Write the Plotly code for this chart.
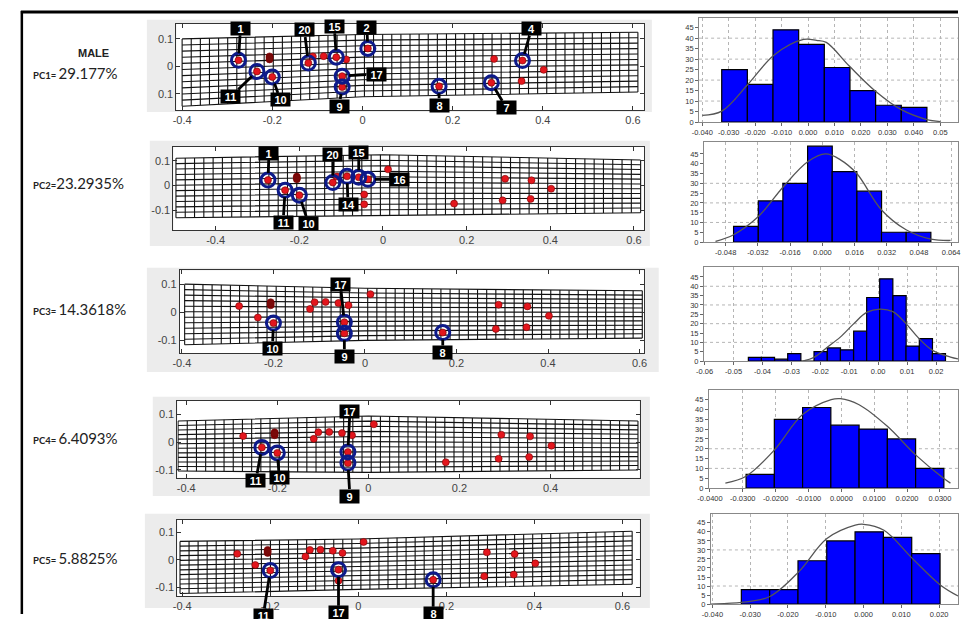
import numpy as np
import plotly.graph_objects as go

W, H = 961, 619

# ------------------------------------------------------------------ text
title_text = "MALE"
pc_names = ["PC1= ", "PC2=", "PC3= ", "PC4= ", "PC5= "]
pc_percent = ["29.177%", "23.2935%", "14.3618%", "6.4093%", "5.8825%"]

# ------------------------------------------------------------------ landmarks (consensus shape)
landmark_id = list(range(1, 21))
landmark_x = [-0.275, 0.012, 0.292, 0.355, 0.402, 0.353, 0.286, 0.170, -0.045, -0.200,
              -0.234, -0.206, -0.206, -0.086, -0.058, -0.036, -0.045, -0.110, -0.206, -0.120]
landmark_y = [0.022, 0.065, 0.027, 0.021, -0.013, -0.054, -0.060, -0.073, -0.076, -0.039,
              -0.019, 0.036, 0.025, 0.037, 0.033, 0.025, -0.036, 0.036, 0.031, 0.012]

# circled landmarks for each PC and the number written in its call-out box
pc1_circled = [1, 11, 10, 20, 15, 2, 17, 9, 8, 7, 4]
pc1_callout = ["1", "11", "10", "20", "15", "2", "17", "9", "8", "7", "4"]
pc2_circled = [1, 11, 10, 20, 14, 15, 16]
pc2_callout = ["1", "11", "10", "20", "14", "15", "16"]
pc3_circled = [10, 17, 9, 8]
pc3_callout = ["10", "17", "9", "8"]
pc4_circled = [11, 10, 17, 9]
pc4_callout = ["11", "10", "17", "9"]
pc5_circled = [10, 17, 8]
pc5_callout = ["11", "17", "8"]

# deformation-grid outline per PC: x extent, top edge and bottom edge (left, centre, right)
grid_x_extent = [(-0.400, 0.611), (-0.495, 0.616), (-0.394, 0.606), (-0.418, 0.592), (-0.405, 0.622)]
grid_top = [(0.100, 0.116, 0.124), (0.110, 0.124, 0.103), (0.101, 0.086, 0.077),
            (0.077, 0.095, 0.077), (0.067, 0.076, 0.104)]
grid_bottom = [(-0.146, -0.111, -0.094), (-0.130, -0.120, -0.110), (-0.117, -0.101, -0.093),
               (-0.105, -0.110, -0.101), (-0.123, -0.108, -0.089)]

grid_xtickvals = [-0.4, -0.2, 0, 0.2, 0.4, 0.6]
grid_xticktext = ["-0.4", "-0.2", "0", "0.2", "0.4", "0.6"]
grid_ytickvals = [-0.1, 0, 0.1]
pc1_yticktext = ["0.1", "0", "0.1"]
other_yticktext = ["-0.1", "0", "0.1"]

# ------------------------------------------------------------------ histograms of PC scores
hist1_centers = [-0.0278, -0.0181, -0.0084, 0.0013, 0.0110, 0.0207, 0.0304, 0.0401]
hist1_width = 0.0097
hist1_counts = [25, 18, 44, 37, 26, 15, 8, 7]
hist1_curve_x = [-0.0400, -0.0326, -0.0227, -0.0128, -0.0017, 0.0032, 0.0069, 0.0156, 0.0254, 0.0351, 0.0446, 0.0501]
hist1_curve_y = [3.2, 5.2, 18, 32, 39.4, 39, 38, 26.7, 14.8, 6, 1.3, 0.2]
hist1_tickvals = [-0.04, -0.03, -0.02, -0.01, 0.0, 0.01, 0.02, 0.03, 0.04, 0.05]
hist1_ticktext = ["-0.040", "-0.030", "-0.020", "-0.010", "0.000", "0.010", "0.020", "0.030", "0.040", "0.05"]

hist2_centers = [-0.0380, -0.0257, -0.0135, -0.0012, 0.0110, 0.0233, 0.0355, 0.0478]
hist2_width = 0.01224
hist2_counts = [8, 21, 30, 49, 36, 26, 5, 5]
hist2_curve_x = [-0.0531, -0.0441, -0.0318, -0.0196, -0.0073, 0.0016, 0.0090, 0.0171, 0.0294, 0.0416, 0.0539, 0.0637]
hist2_curve_y = [0.3, 3.7, 13, 28, 41, 45, 42, 35, 16.4, 6.3, 1.5, 0.8]
hist2_tickvals = [-0.048, -0.032, -0.016, 0.0, 0.016, 0.032, 0.048, 0.064]
hist2_ticktext = ["-0.048", "-0.032", "-0.016", "0.000", "0.016", "0.032", "0.048", "0.064"]

hist3_centers = [-0.0426, -0.0381, -0.0335, -0.0290, -0.0244, -0.0199, -0.0153, -0.0108,
                 -0.0062, -0.0017, 0.0028, 0.0074, 0.0119, 0.0165, 0.0210]
hist3_width = 0.00455
hist3_counts = [2, 2, 1, 4, 0, 5, 7, 6, 16, 34, 44, 35, 8, 12, 4]
hist3_curve_x = [-0.0261, -0.0222, -0.0176, -0.0131, -0.0085, -0.0040, 0.0006, 0.0051, 0.0097, 0.0142, 0.0188, 0.0250, 0.0276]
hist3_curve_y = [0, 2, 7.4, 12.8, 19.9, 26, 27.8, 26.4, 19.9, 11.9, 5.7, 2.1, 1.2]
hist3_tickvals = [-0.06, -0.05, -0.04, -0.03, -0.02, -0.01, 0.0, 0.01, 0.02]
hist3_ticktext = ["-0.06", "-0.05", "-0.04", "-0.03", "-0.02", "-0.01", "0.00", "0.01", "0.02"]

hist4_centers = [-0.0247, -0.0161, -0.0075, 0.0011, 0.0097, 0.0183, 0.0269]
hist4_width = 0.0086
hist4_counts = [7, 35, 41, 32, 30, 25, 10]
hist4_curve_x = [-0.0353, -0.0290, -0.0203, -0.0118, -0.0031, -0.0003, 0.0054, 0.0140, 0.0225, 0.0310, 0.0332]
hist4_curve_y = [2.5, 6, 19.5, 37.4, 45, 45.5, 42.4, 31.4, 17, 5.1, 2.5]
hist4_tickvals = [-0.04, -0.03, -0.02, -0.01, 0.0, 0.01, 0.02, 0.03]
hist4_ticktext = ["-0.0400", "-0.0300", "-0.0200", "-0.0100", "0.0000", "0.0100", "0.0200", "0.0300"]

hist5_centers = [-0.0286, -0.0211, -0.0136, -0.0060, 0.0015, 0.0090, 0.0165]
hist5_width = 0.0075
hist5_counts = [8, 8, 24, 35, 40, 37, 28]
hist5_curve_x = [-0.0404, -0.0361, -0.0323, -0.0248, -0.0171, -0.0097, -0.0022, 0.0000, 0.0054, 0.0129, 0.0203, 0.0250]
hist5_curve_y = [0, 0.4, 0.9, 4.2, 18, 36.3, 43.7, 44.2, 40.9, 25.3, 10.6, 4.5]
hist5_tickvals = [-0.04, -0.03, -0.02, -0.01, 0.0, 0.01, 0.02]
hist5_ticktext = ["-0.040", "-0.030", "-0.020", "-0.010", "0.000", "0.010", "0.020"]

hist_ytickvals = [0, 5, 10, 15, 20, 25, 30, 35, 40, 45]

# ------------------------------------------------------------------ layout (pixels)
grid_dom = [(167, 642, 24, 111), (164, 642, 148, 232), (170.5, 642, 272.7, 356),
            (168, 637.6, 404, 481.7), (168, 637.6, 524, 601)]
grid_xrange = [(-0.4127, 0.6245), (-0.501, 0.624), (-0.4045, 0.6097), (-0.4195, 0.5957), (-0.411, 0.639)]
grid_yrange = [(-0.160, 0.155), (-0.180, 0.156), (-0.147, 0.150), (-0.1296, 0.1505), (-0.1325, 0.1458)]
grey_boxes = [(137, 650, 20, 113), (140, 648, 142, 248), (137, 657, 270, 375),
              (143, 648, 400, 500), (135, 648, 518, 613)]
hist_dom = [(698, 961, 18, 123), (703, 961, 143, 244), (703, 961, 269, 364),
            (708, 961, 393, 492), (710, 961, 518, 609)]
hist_xrange = [(-0.0412, 0.0567), (-0.0588, 0.0674), (-0.0602, 0.0276), (-0.0403, 0.0355), (-0.0404, 0.025)]
hist_yrange = [(0, 49.7), (0, 51.2), (0, 50.4), (0, 50), (0, 50)]
hist_hgrid = [[10, 20, 30, 40], [10, 20, 30], [10, 20, 30, 40], [10, 20], [10, 30]]
callout_offsets = [
    [(2, -32), (-26, 25), (8, 23), (-4, -33), (-2, -31), (-1, -21), (34, -2), (-3, 19), (0, 19), (15, 25), (9, -32)],
    [(1, -27), (-2, 32), (9, 28), (0, -28), (1, 28), (0, -25), (32, 0)],
    [(-1, 25), (-4, -38), (0, 23), (0, 20)],
    [(-6, 33), (2, 25), (2, -41), (2, 33)],
    [(-7, 45), (0, 43), (0, 34)],
]
dark_landmarks = [12, 13, 19]
pc_label_y = [74, 184, 312, 442, 563]
N_COLS, N_ROWS = 51, 12

circled = [pc1_circled, pc2_circled, pc3_circled, pc4_circled, pc5_circled]
callouts = [pc1_callout, pc2_callout, pc3_callout, pc4_callout, pc5_callout]
hists = [
    (hist1_centers, hist1_width, hist1_counts, hist1_curve_x, hist1_curve_y, hist1_tickvals, hist1_ticktext),
    (hist2_centers, hist2_width, hist2_counts, hist2_curve_x, hist2_curve_y, hist2_tickvals, hist2_ticktext),
    (hist3_centers, hist3_width, hist3_counts, hist3_curve_x, hist3_curve_y, hist3_tickvals, hist3_ticktext),
    (hist4_centers, hist4_width, hist4_counts, hist4_curve_x, hist4_curve_y, hist4_tickvals, hist4_ticktext),
    (hist5_centers, hist5_width, hist5_counts, hist5_curve_x, hist5_curve_y, hist5_tickvals, hist5_ticktext),
]


def xa(i):
    return "x" if i == 1 else f"x{i}"


def ya(i):
    return "y" if i == 1 else f"y{i}"


def axkey(letter, i):
    return f"{letter}axis" if i == 1 else f"{letter}axis{i}"


def dx(l, r):
    return [l / W, min(r / W, 1.0)]


def dy(t, b):
    return [1 - b / H, 1 - t / H]


lm = {k: (x, y) for k, x, y in zip(landmark_id, landmark_x, landmark_y)}
dot_colors = ["#7a0a0a" if k in dark_landmarks else "#e3161d" for k in landmark_id]

fig = go.Figure()
layout = dict(width=W, height=H, margin=dict(l=0, r=0, t=0, b=0),
              paper_bgcolor="white", plot_bgcolor="white", showlegend=False,
              font=dict(family="Liberation Sans, Arial, sans-serif"),
              shapes=[], annotations=[])

# grey panels behind deformation grids, with white plot areas on top
for (l, r, t, b) in grey_boxes:
    layout["shapes"].append(dict(type="rect", xref="paper", yref="paper", x0=l / W, x1=r / W,
                                 y0=1 - b / H, y1=1 - t / H, fillcolor="#ececec",
                                 line=dict(width=0), layer="below"))
for (l, r, t, b) in grid_dom:
    layout["shapes"].append(dict(type="rect", xref="paper", yref="paper", x0=l / W, x1=r / W,
                                 y0=1 - b / H, y1=1 - t / H, fillcolor="white",
                                 line=dict(width=0), layer="below"))

for p in range(5):
    i = p + 1
    xl, xr = grid_x_extent[p]
    ctrl = [xl, 0.0, xr]
    topv, botv = grid_top[p], grid_bottom[p]
    gx, gy = [], []
    for x in np.linspace(xl, xr, N_COLS):
        gx += [float(x), float(x), None]
        gy += [float(np.interp(x, ctrl, botv)), float(np.interp(x, ctrl, topv)), None]
    for t in np.linspace(0, 1, N_ROWS):
        for k in range(3):
            gx.append(ctrl[k])
            gy.append(botv[k] + t * (topv[k] - botv[k]))
        gx.append(None)
        gy.append(None)
    fig.add_trace(go.Scatter(x=gx, y=gy, mode="lines", line=dict(color="#111111", width=1.1),
                             xaxis=xa(i), yaxis=ya(i), hoverinfo="skip"))
    fig.add_trace(go.Scatter(x=landmark_x, y=landmark_y, mode="markers",
                             marker=dict(size=7, color=dot_colors, line=dict(color="#7a0000", width=0.6)),
                             xaxis=xa(i), yaxis=ya(i), hoverinfo="skip"))
    ids = circled[p]
    fig.add_trace(go.Scatter(x=[lm[k][0] for k in ids], y=[lm[k][1] for k in ids], mode="markers",
                             marker=dict(symbol="circle-open", size=14, color="#0d1a8a", line=dict(width=3)),
                             xaxis=xa(i), yaxis=ya(i), hoverinfo="skip"))
    for k, txt, (ox, oy) in zip(ids, callouts[p], callout_offsets[p]):
        layout["annotations"].append(dict(
            x=lm[k][0], y=lm[k][1], xref=xa(i), yref=ya(i), text=f"<b>{txt}</b>",
            showarrow=True, ax=ox, ay=oy, arrowhead=0, arrowwidth=2.8, arrowcolor="black",
            standoff=7, bgcolor="black", borderpad=1, width=17, height=11,
            font=dict(color="white", size=11, family="Liberation Sans, Arial")))
    l, r, t, b = grid_dom[p]
    layout[axkey("x", i)] = dict(domain=dx(l, r), range=list(grid_xrange[p]), anchor=ya(i),
                                 tickvals=grid_xtickvals, ticktext=grid_xticktext, ticks="inside",
                                 ticklen=4, tickcolor="#333", showline=True, linecolor="#333",
                                 linewidth=1, mirror="ticks", showgrid=False, zeroline=False,
                                 tickfont=dict(size=11, color="#444"), tickangle=0, fixedrange=True)
    layout[axkey("y", i)] = dict(domain=dy(t, b), range=list(grid_yrange[p]), anchor=xa(i),
                                 tickvals=grid_ytickvals,
                                 ticktext=pc1_yticktext if p == 0 else other_yticktext,
                                 ticks="inside", ticklen=4, tickcolor="#333", showline=True,
                                 linecolor="#333", linewidth=1, mirror="ticks", showgrid=False,
                                 zeroline=False, tickfont=dict(size=11, color="#444"), fixedrange=True)

for h in range(5):
    i = h + 6
    centers, width, counts, cx, cy, tv, tt = hists[h]
    fig.add_trace(go.Bar(x=centers, y=counts, width=width,
                         marker=dict(color="#0000ff", line=dict(color="black", width=1.2)),
                         xaxis=xa(i), yaxis=ya(i), hoverinfo="skip"))
    fig.add_trace(go.Scatter(x=cx, y=cy, mode="lines",
                             line=dict(color="#555555", width=1.3, shape="spline"),
                             xaxis=xa(i), yaxis=ya(i), hoverinfo="skip"))
    l, r, t, b = hist_dom[h]
    layout[axkey("x", i)] = dict(domain=dx(l, r), range=list(hist_xrange[h]), anchor=ya(i),
                                 tickvals=tv, ticktext=tt, ticks="outside", ticklen=3,
                                 tickcolor="#666", showline=True, linecolor="#888", mirror=True,
                                 showgrid=True, gridcolor="#b5b5b5", griddash="dot", gridwidth=1,
                                 zeroline=False, tickfont=dict(size=7.5, color="#333"),
                                 tickangle=0, fixedrange=True)
    layout[axkey("y", i)] = dict(domain=dy(t, b), range=list(hist_yrange[h]), anchor=xa(i),
                                 tickvals=hist_ytickvals, ticks="outside", ticklen=3,
                                 tickcolor="#666", showline=True, linecolor="#888", mirror=True,
                                 showgrid=False, zeroline=False,
                                 tickfont=dict(size=7.5, color="#333"), fixedrange=True)
    for v in hist_hgrid[h]:
        layout["shapes"].append(dict(type="line", xref=f"{xa(i)} domain", yref=ya(i),
                                     x0=0, x1=1, y0=v, y1=v, layer="below",
                                     line=dict(color="#b5b5b5", width=1, dash="dot")))

# left-hand labels
layout["annotations"].append(dict(x=65 / W, y=1 - 45 / H, xref="paper", yref="paper",
                                  text=f"<b>{title_text}</b>", showarrow=False,
                                  font=dict(size=11, color="#222", family="Liberation Sans, Arial")))
for name, val, yy in zip(pc_names, pc_percent, pc_label_y):
    layout["annotations"].append(dict(
        x=19 / W, y=1 - yy / H, xref="paper", yref="paper", xanchor="left", yanchor="middle",
        showarrow=False,
        text=f"<b><span style='font-size:9.5px'>{name}</span></b><span style='font-size:15px'>{val}</span>",
        font=dict(family="Lato, Liberation Sans, sans-serif", color="#222", size=15)))

# black frame lines
layout["shapes"].append(dict(type="line", xref="paper", yref="paper", x0=9 / W, x1=1,
                             y0=1 - 12 / H, y1=1 - 12 / H, line=dict(color="black", width=3)))
layout["shapes"].append(dict(type="line", xref="paper", yref="paper", x0=10 / W, x1=10 / W,
                             y0=0, y1=1 - 11 / H, line=dict(color="black", width=2.5)))

fig.update_layout(**layout)
fig.write_html("out.html", config={"displayModeBar": False},
               post_script="document.body.style.margin='0';document.body.style.padding='0';"
                           "document.body.style.overflow='hidden';")
